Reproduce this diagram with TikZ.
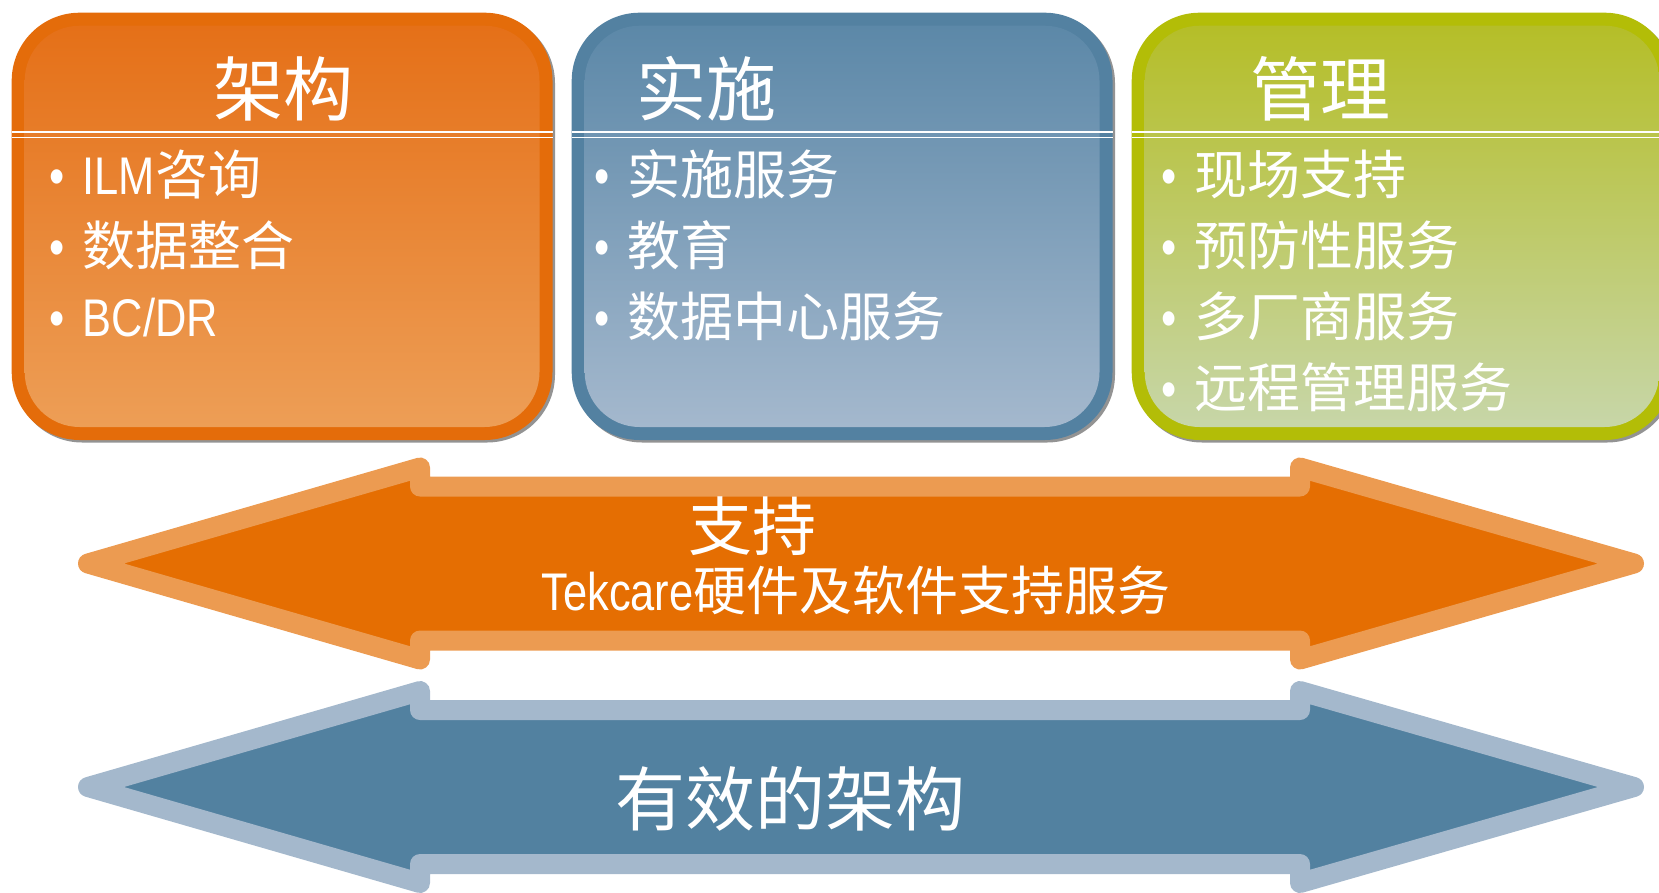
\documentclass[tikz,border=0pt]{standalone}
\usepackage{fontspec}
\setmainfont{Noto Sans CJK SC}
\newfontfamily\narrow[FakeStretch=0.82]{Liberation Sans}
\usetikzlibrary{positioning, calc}
\definecolor{orgrim}{RGB}{228,108,10}
\definecolor{orgtop}{RGB}{229,112,24}
\definecolor{orgmid}{RGB}{233,135,55}
\definecolor{orgbot}{RGB}{237,158,86}
\definecolor{orgarrow}{RGB}{229,110,2}
\definecolor{orglt}{RGB}{236,155,81}
\definecolor{blurim}{RGB}{83,129,161}
\definecolor{blutop}{RGB}{92,136,168}
\definecolor{blumid}{RGB}{125,157,187}
\definecolor{blubot}{RGB}{164,184,205}
\definecolor{bluarrow}{RGB}{82,129,160}
\definecolor{blult}{RGB}{164,184,204}
\definecolor{grnrim}{RGB}{179,189,7}
\definecolor{grntop}{RGB}{181,190,40}
\definecolor{grnmid}{RGB}{190,201,110}
\definecolor{grnbot}{RGB}{199,214,168}
\newcommand{\blt}{\makebox[33pt][l]{\narrow\textbullet}}

\begin{document}
\begin{tikzpicture}[x=1pt,y=-1pt,
    title/.style={text=white,inner sep=0pt,anchor=base,font=\fontsize{70}{84}\selectfont},
    item/.style={text=white,inner sep=0pt,anchor=base west,font=\fontsize{53}{64}\selectfont},
    shadowbox/.style={fill=gray!85,rounded corners=68pt},
    rim/.style={rounded corners=68pt},
    panel/.style={rounded corners=55pt},
    dline/.style={white,line width=1.6pt},
    arrowshape/.style={line width=20pt,line join=round}]
  \useasboundingbox (0,0) rectangle (1659,892);
  \clip (0,0) rectangle (1659,892);

  % Box 1
  \fill[shadowbox] (14.2,15.2) rectangle (555,442.5);
  \fill[rim,orgrim] (11.7,12.7) rectangle (552.5,440);
  \shade[panel,top color=orgtop,middle color=orgmid,bottom color=orgbot] (24.7,25.7) rectangle (539.5,427);
  \draw[dline] (11.7,131.7) -- (552.5,131.7) (11.7,137.3) -- (552.5,137.3);
  \node[title] (arch_t) at (283,115) {架构};
  \node[item] (arch_1) at (49.5,194) {\blt{\narrow ILM}咨询};
  \node[item] (arch_2) at (49.5,265) {\blt 数据整合};
  \node[item] (arch_3) at (49.5,336) {\blt{\narrow BC/DR}};

  % Box 2
  \fill[shadowbox] (574.2,15.2) rectangle (1115,442.5);
  \fill[rim,blurim] (571.7,12.7) rectangle (1112.5,440);
  \shade[panel,top color=blutop,middle color=blumid,bottom color=blubot] (584.7,25.7) rectangle (1099.5,427);
  \draw[dline] (571.7,131.7) -- (1112.5,131.7) (571.7,137.3) -- (1112.5,137.3);
  \node[title] (impl_t) at (706.5,115) {实施};
  \node[item] (impl_1) at (594,194) {\blt 实施服务};
  \node[item] (impl_2) at (594,265) {\blt 教育};
  \node[item] (impl_3) at (594,336) {\blt 数据中心服务};

  % Box 3
  \fill[shadowbox] (1134.2,15.2) rectangle (1675,442.5);
  \fill[rim,grnrim] (1131.7,12.7) rectangle (1672.5,440);
  \shade[panel,top color=grntop,middle color=grnmid,bottom color=grnbot] (1144.7,25.7) rectangle (1659.5,427);
  \draw[dline] (1131.7,131.7) -- (1672.5,131.7) (1131.7,137.3) -- (1672.5,137.3);
  \node[title] (mgmt_t) at (1320,115) {管理};
  \node[item] (mgmt_1) at (1161.5,194) {\blt 现场支持};
  \node[item] (mgmt_2) at (1161.5,265) {\blt 预防性服务};
  \node[item] (mgmt_3) at (1161.5,336) {\blt 多厂商服务};
  \node[item] (mgmt_4) at (1161.5,407) {\blt 远程管理服务};

  % Support arrow
  \filldraw[arrowshape,draw=orglt,fill=orgarrow] (88,563.5) -- ++(332,-96) -- ++(0,19) -- ++(880,0)
    -- ++(0,-19) -- ++(334,96) -- ++(-334,96) -- ++(0,-19) -- ++(-880,0) -- ++(0,19) -- cycle;
  \node[text=white,inner sep=0pt,anchor=base,font=\fontsize{64}{76}\selectfont] (supp_t) at (752,550) {支持};
  \node[text=white,inner sep=0pt,anchor=base,font=\fontsize{53}{64}\selectfont] (supp_s) at (856,610) {{\narrow Tekcare}硬件及软件支持服务};

  % Architecture arrow
  \filldraw[arrowshape,draw=blult,fill=bluarrow] (88,787) -- ++(332,-96) -- ++(0,19) -- ++(880,0)
    -- ++(0,-19) -- ++(334,96) -- ++(-334,96) -- ++(0,-19) -- ++(-880,0) -- ++(0,19) -- cycle;
  \node[title] (eff_t) at (790,825) {有效的架构};
\end{tikzpicture}
\end{document}
